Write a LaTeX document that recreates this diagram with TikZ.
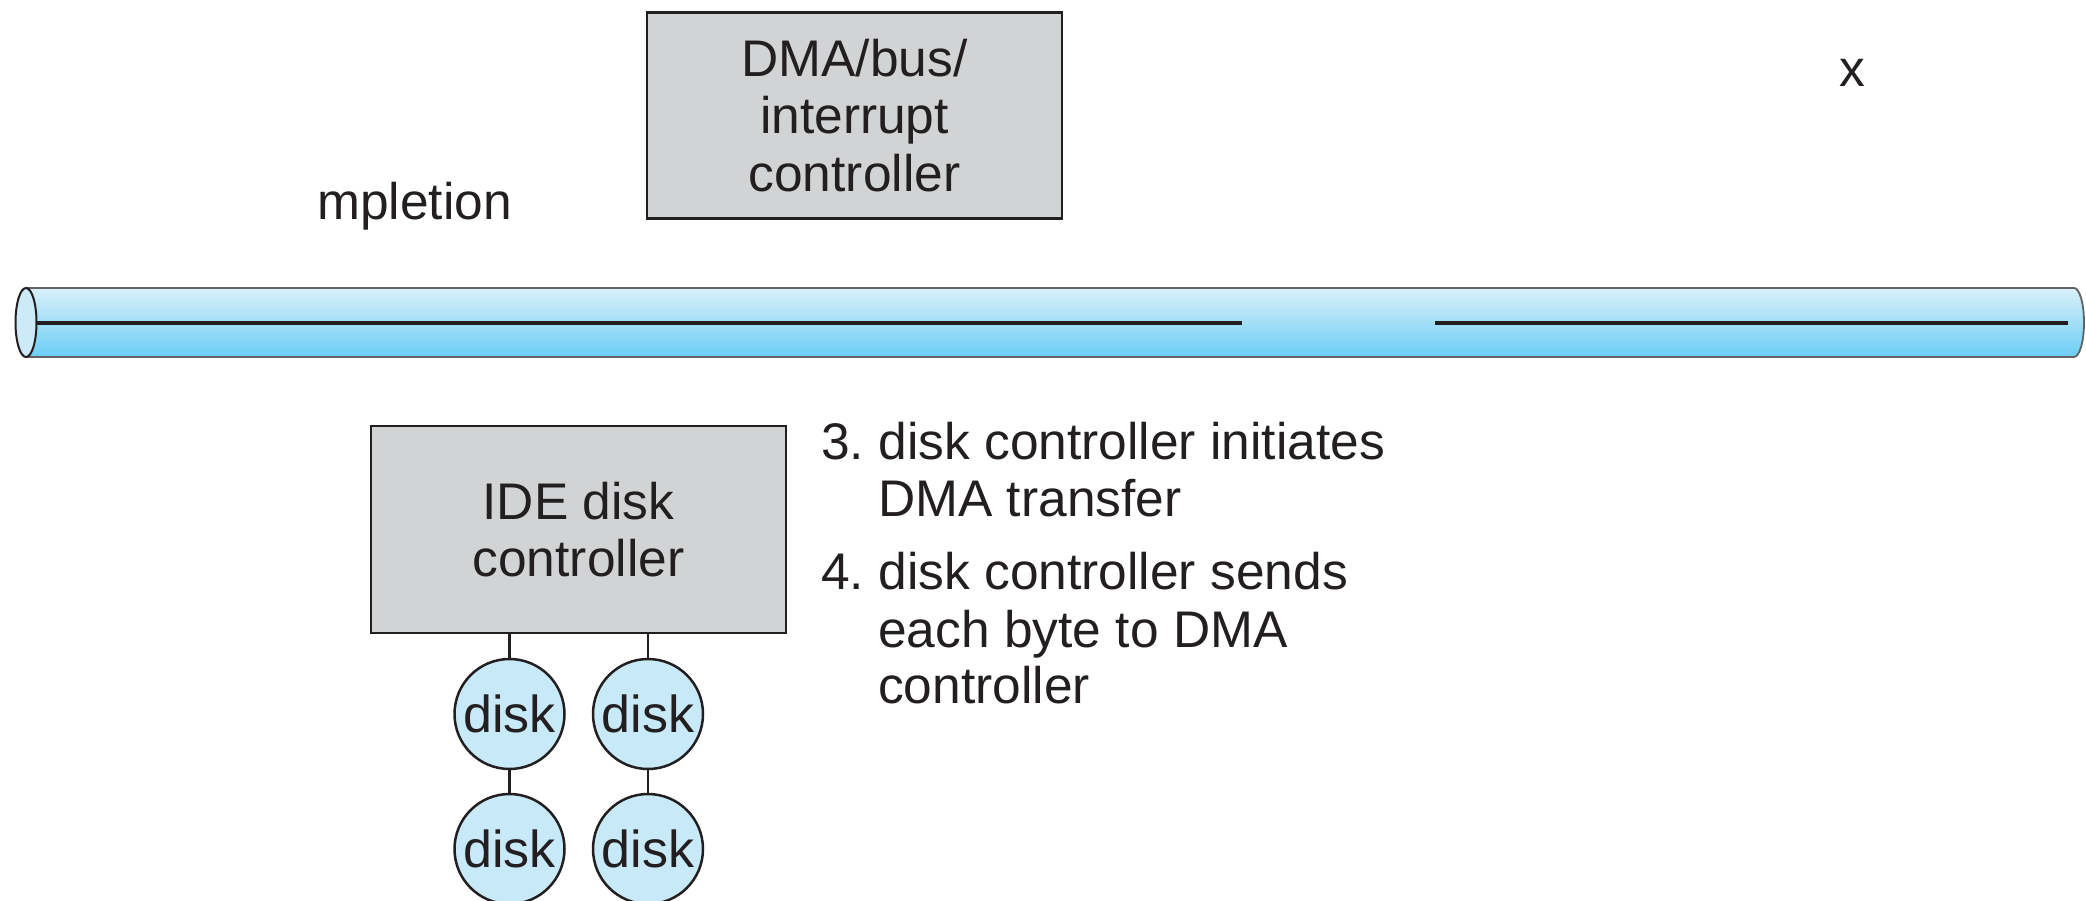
\documentclass[tikz,border=0pt]{standalone}
\usepackage{fontspec}
\setmainfont{Liberation Sans}
\usetikzlibrary{shapes.geometric}
\frenchspacing
\definecolor{ink}{HTML}{231F20}
\definecolor{boxgray}{HTML}{D1D3D4}
\definecolor{diskblue}{HTML}{C8E9F8}
\definecolor{bustop}{HTML}{D9F0FB}
\definecolor{busbot}{HTML}{6CCDF3}
\definecolor{busend}{HTML}{CDEAF9}
\begin{document}
\begin{tikzpicture}[x=1pt,y=-1pt,
  ctrlbox/.style={draw=ink, line width=2.5pt, fill=boxgray, minimum width=415pt, align=center,
    font=\fontsize{51.5}{57.5}\selectfont, text=ink, inner sep=0pt},
  diskc/.style={circle, draw=ink, line width=2.5pt, fill=diskblue, minimum size=110pt, inner sep=0pt,
    font=\fontsize{52}{57.5}\selectfont, text=ink},
  lbl/.style={anchor=base west, inner sep=0pt, font=\fontsize{51.5}{57.5}\selectfont, text=ink},
  wire/.style={draw=ink, line width=2.5pt},
  busline/.style={draw=ink, line width=4pt}
]
\useasboundingbox (0,0) rectangle (2086,900);
% bus
\shade[top color=bustop, bottom color=busbot]
  (26,288) -- (2074,288) arc[start angle=-90, end angle=90, x radius=10, y radius=34.5] -- (26,357) -- cycle;
\draw[draw=ink!70, line width=1.8pt]
  (26,288) -- (2074,288) arc[start angle=-90, end angle=90, x radius=10, y radius=34.5] -- (26,357);
\node[ellipse, draw=ink, line width=2pt, fill=busend, minimum width=21pt, minimum height=69pt, inner sep=0pt] (busL) at (26,322.5) {};
\coordinate (b1) at (37,322.5);
\coordinate (b2) at (1242,322.5);
\coordinate (b3) at (1435,322.5);
\coordinate (b4) at (2068,322.5);
\draw[busline] (b1) -- (b2);
\draw[busline] (b3) -- (b4);
% controllers
\node[ctrlbox, minimum height=206pt] (dma) at (854.5,115.5) {DMA/bus/\\interrupt\\controller};
\node[ctrlbox, minimum height=207pt] (ide) at (578.5,529.5) {IDE disk\\controller};
% disks
\node[diskc] (d1) at (509.5,714) {disk};
\node[diskc] (d2) at (648,714) {disk};
\node[diskc] (d3) at (509.5,849) {disk};
\node[diskc] (d4) at (648,849) {disk};
\draw[wire] (ide.south -| d1.north) -- (d1.north);
\draw[wire] (ide.south -| d2.north) -- (d2.north);
\draw[wire] (d1.south) -- (d3.north);
\draw[wire] (d2.south) -- (d4.north);
% labels
\node[lbl] (mp) at (317,219) {mpletion};
\node[lbl, anchor=base] (xx) at (1852,86) {x};
\node[lbl] (s3a) at (821,459) {3. disk controller initiates};
\node[lbl] (s3b) at (878,516) {DMA transfer};
\node[lbl] (s4a) at (821,589) {4. disk controller sends};
\node[lbl] (s4b) at (878,647) {each byte to DMA};
\node[lbl] (s4c) at (878,703) {controller};
\end{tikzpicture}
\end{document}
